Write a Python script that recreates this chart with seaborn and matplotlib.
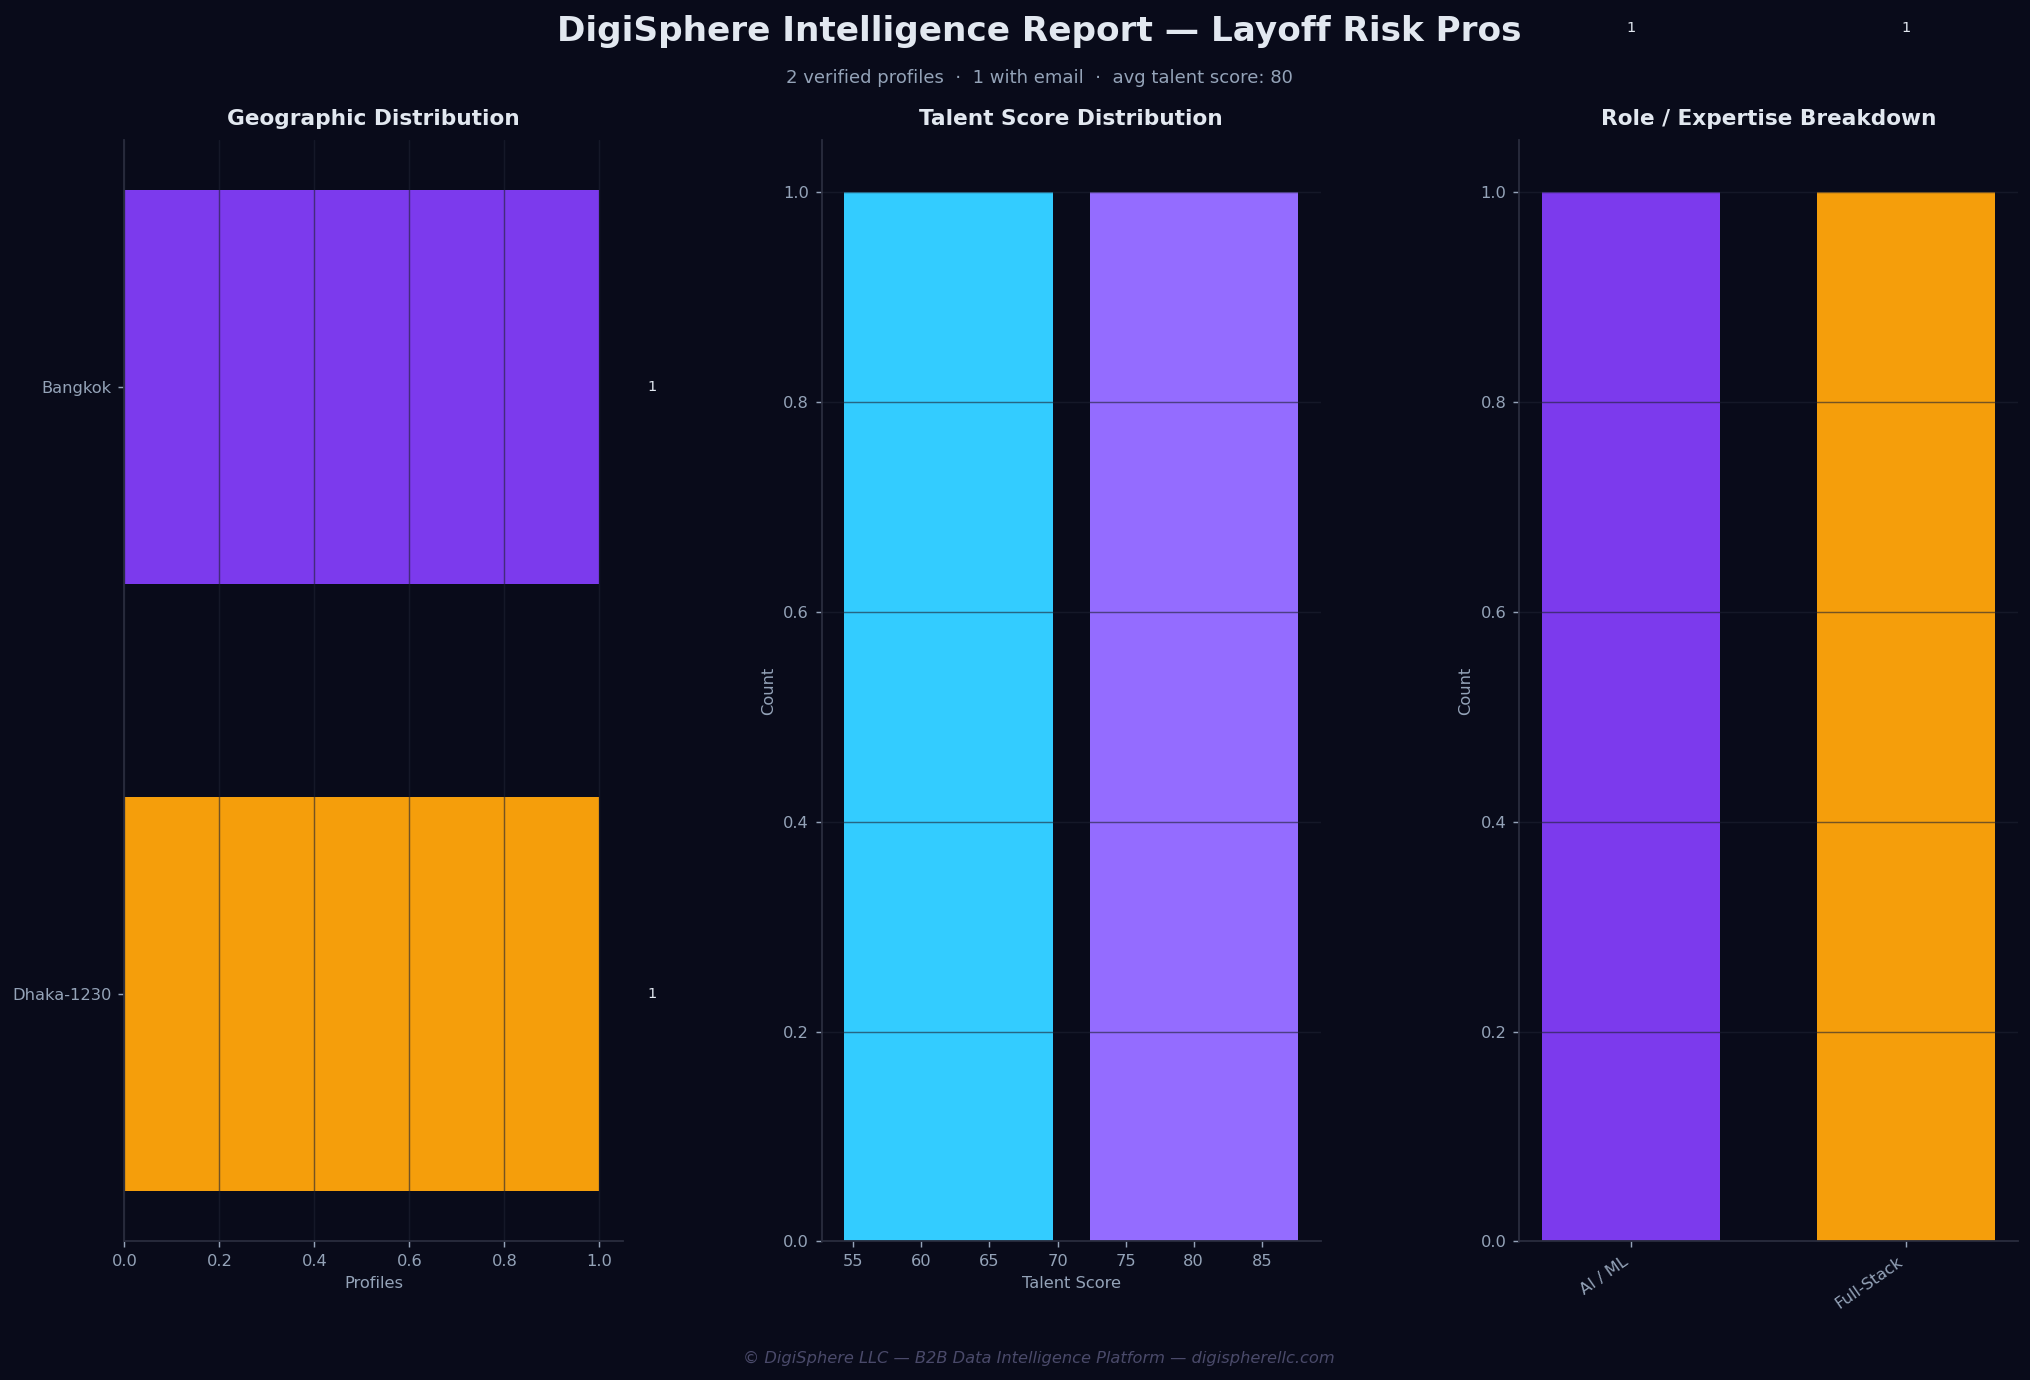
import numpy as np
import pandas as pd
import matplotlib
matplotlib.use("Agg")
import matplotlib.pyplot as plt
import seaborn as sns

# ---- data ----
cities = ["Bangkok", "Dhaka-1230"]
city_counts = [1, 1]
scores = [53, 89]
score_bins = 2
roles = ["AI / ML", "Full-Stack"]
role_counts = [1, 1]

title = "DigiSphere Intelligence Report \u2014 Layoff Risk Pros"
subtitle = "2 verified profiles  \u00b7  1 with email  \u00b7  avg talent score: 80"
footer = "\u00a9 DigiSphere LLC \u2014 B2B Data Intelligence Platform \u2014 digispherellc.com"

# ---- style ----
BG = "#090b1a"
PURPLE = "#7c3aed"
ORANGE = "#f59e0b"
CYAN = "#33ccff"
LPURPLE = "#946cff"
TXT = "#e2e8f0"
MUTED = "#94a3b8"
SPINE = "#2a2d3e"

sns.set_style("dark")
plt.rcParams.update({
    "figure.facecolor": BG,
    "axes.facecolor": BG,
    "savefig.facecolor": BG,
    "axes.edgecolor": SPINE,
    "axes.axisbelow": "line",
    "font.family": ["DejaVu Sans"],
    "xtick.color": MUTED,
    "ytick.color": MUTED,
    "xtick.bottom": True,
    "ytick.left": True,
    "xtick.major.size": 3.5,
    "ytick.major.size": 3.5,
    "xtick.labelsize": 9,
    "ytick.labelsize": 9,
    "axes.labelcolor": MUTED,
    "axes.labelsize": 9,
    "text.color": TXT,
})

fig, axes = plt.subplots(1, 3, figsize=(2030 / 130, 1380 / 130), dpi=130)
fig.subplots_adjust(left=0.0613, right=0.994, top=0.8986, bottom=0.1004, wspace=0.398)

grid_kw = dict(color="#1e2233", alpha=0.6, linewidth=0.8)

def style_ax(ax):
    for s in ["top", "right"]:
        ax.spines[s].set_visible(False)
    for s in ["left", "bottom"]:
        ax.spines[s].set_visible(True)
        ax.spines[s].set_color(SPINE)
        ax.spines[s].set_linewidth(1.0)

# --- Geographic ---
ax = axes[0]
sns.barplot(x=city_counts, y=cities, hue=cities, palette=[PURPLE, ORANGE],
            orient="h", width=0.65, legend=False, saturation=1, linewidth=0, ax=ax)
ax.set_ylim(1.4075, -0.4075)
ax.set_xlim(0, 1.05)
ax.xaxis.grid(True, **grid_kw)
ax.yaxis.grid(False)
for i, v in enumerate(city_counts):
    ax.text(v + 0.1, i, str(v), ha="left", va="center", color=TXT, fontsize=8, clip_on=False)
ax.set_xlabel("Profiles")
ax.set_ylabel("")
ax.set_title("Geographic Distribution", color=TXT, fontsize=12, fontweight="bold", pad=8)
style_ax(ax)

# --- Talent score ---
ax = axes[1]
sns.histplot(x=scores, bins=score_bins, shrink=0.85, alpha=1, linewidth=0, ax=ax)
for p, c in zip(ax.patches, [CYAN, LPURPLE]):
    p.set_facecolor(c)
    p.set_edgecolor("none")
ax.yaxis.grid(True, **grid_kw)
ax.xaxis.grid(False)
ax.set_xlabel("Talent Score")
ax.set_ylabel("Count")
ax.set_title("Talent Score Distribution", color=TXT, fontsize=12, fontweight="bold", pad=8)
style_ax(ax)

# --- Roles ---
ax = axes[2]
sns.barplot(x=roles, y=role_counts, hue=roles, palette=[PURPLE, ORANGE],
            width=0.65, legend=False, saturation=1, linewidth=0, ax=ax)
ax.set_xlim(-0.4075, 1.4075)
ax.set_ylim(0, 1.05)
ax.yaxis.grid(True, **grid_kw)
ax.xaxis.grid(False)
for i, v in enumerate(role_counts):
    ax.text(i, v + 0.15, str(v), ha="center", va="bottom", color=TXT, fontsize=8, clip_on=False)
ax.set_xlabel("")
ax.set_ylabel("Count")
plt.setp(ax.get_xticklabels(), rotation=35, ha="right")
ax.set_title("Role / Expertise Breakdown", color=TXT, fontsize=12, fontweight="bold", pad=8)
style_ax(ax)

fig.text(0.512, 1 - 31 / 1380, title, ha="center", va="center",
         fontsize=19, fontweight="bold", color=TXT)
fig.text(0.512, 1 - 78 / 1380, subtitle, ha="center", va="center",
         fontsize=10, color=MUTED)
fig.text(0.512, 1 - 1358 / 1380, footer, ha="center", va="center",
         fontsize=9, style="italic", color="#4a4a6a")

fig.savefig("out.png", dpi=130, facecolor=BG)
